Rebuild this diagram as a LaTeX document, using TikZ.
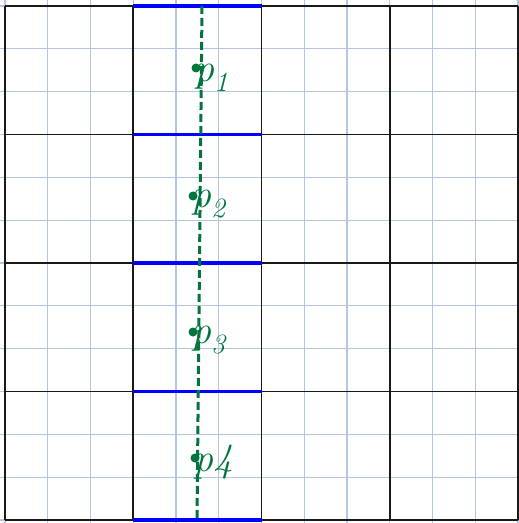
\documentclass[tikz,border=0pt]{standalone}
\usepackage{fontspec}
\usetikzlibrary{calc}
\definecolor{minorblue}{RGB}{180,198,222}
\definecolor{penGreen}{RGB}{0,118,62}
\tikzset{
  minorline/.style={draw=minorblue, line width=1.2bp},
  majorline/.style={draw=black!90, line width=1.8bp},
  blueseg/.style={draw=blue, line width=3.2bp},
  penline/.style={draw=penGreen, line width=3bp, dash pattern=on 8bp off 4bp},
  pendot/.style={circle, fill=penGreen, inner sep=0pt, minimum size=9bp},
  penlabel/.style={text=penGreen, font=\fontsize{40}{40}\selectfont\itshape, inner sep=0pt, anchor=west}
}
\begin{document}
\begin{tikzpicture}[x=1bp,y=-1bp]
\useasboundingbox (0,0) rectangle (519,523);
\fill[white] (0,0) rectangle (519,523);
% minor grid
\foreach \i in {0,...,12} {
  \pgfmathsetmacro{\xx}{5+42.75*\i}
  \pgfmathsetmacro{\yy}{6+42.83*\i}
  \draw[minorline] (\xx,0) -- (\xx,523);
  \draw[minorline] (0,\yy) -- (519,\yy);
}
% major grid
\foreach \i in {0,...,4} {
  \pgfmathsetmacro{\xx}{5+128.25*\i}
  \pgfmathsetmacro{\yy}{6+128.5*\i}
  \draw[majorline] (\xx,6) -- (\xx,520);
  \draw[majorline] (5,\yy) -- (518,\yy);
}
% blue segments
\foreach \i in {0,...,4} {
  \pgfmathsetmacro{\yy}{6+128.5*\i}
  \draw[blueseg] (133.25,\yy) -- (261.5,\yy);
}
% green dashed line
\coordinate (top) at (202,6);
\coordinate (bot) at (197,520);
\draw[penline] (top) -- (bot);
% points
\node[pendot] (d1) at (196,68) {};
\node[pendot] (d2) at (193,196) {};
\node[pendot] (d3) at (193,332) {};
\node[pendot] (d4) at (195,458) {};
\node[penlabel] (p1) at (194,78) {p\textsubscript{1}};
\node[penlabel] (p2) at (191,204) {p\textsubscript{2}};
\node[penlabel] (p3) at (191,340) {p\textsubscript{3}};
\node[penlabel] (p4) at (193,462) {p4};
\end{tikzpicture}
\end{document}
